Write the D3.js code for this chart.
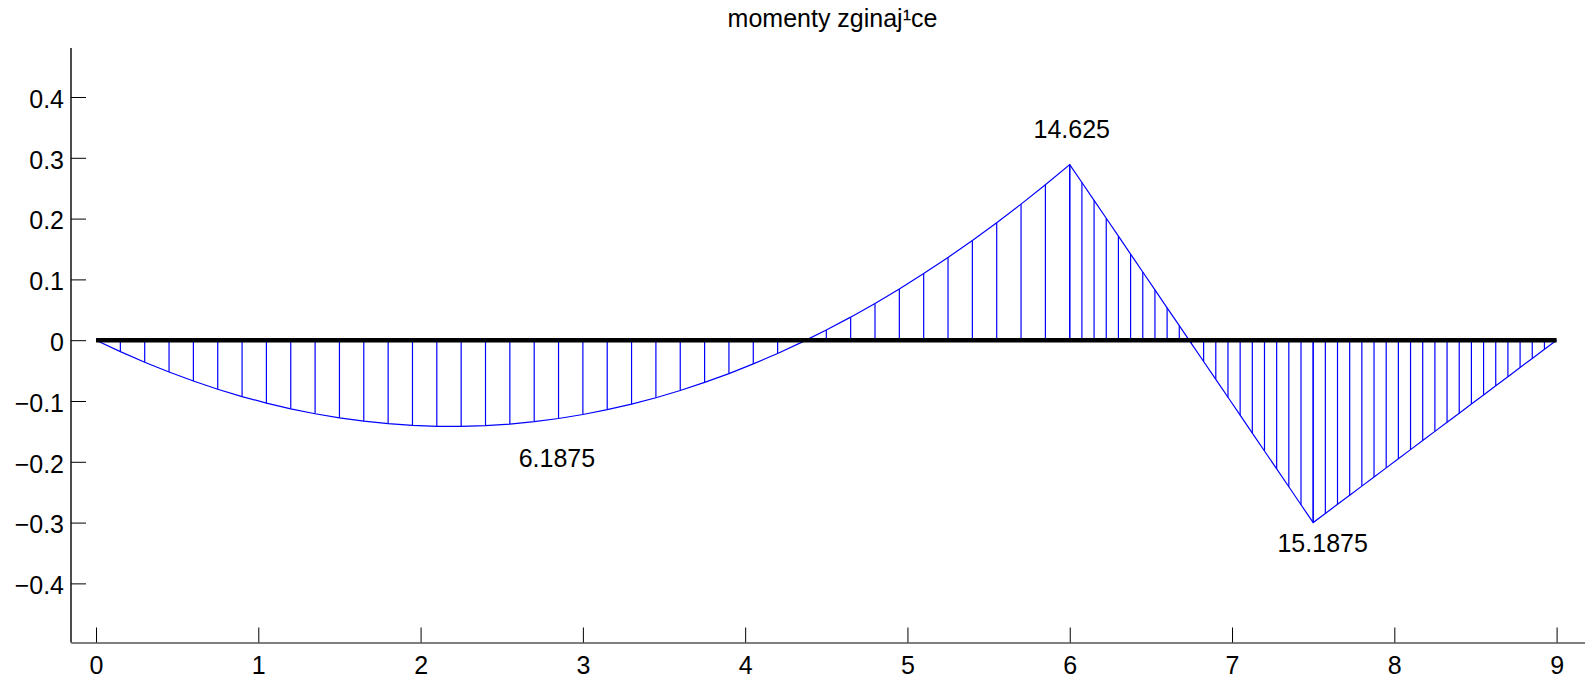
<!DOCTYPE html>
<html>
<head>
<meta charset="utf-8">
<script src="https://cdn.jsdelivr.net/npm/d3@7"></script>
<style>
  html, body { margin: 0; padding: 0; background: #fff; }
  svg { display: block; font-family: "Liberation Sans", Arial, Helvetica, sans-serif; }
</style>
</head>
<body>
<svg id="chart" width="1585" height="680"></svg>
<script>
// ---- data ----
const title = "momenty zginaj\u00B9ce";

// span 0 – 6 (step 0.15)
const xSpan1 = [0, 0.15, 0.3, 0.45, 0.6, 0.75, 0.9, 1.05, 1.2, 1.35, 1.5, 1.65, 1.8, 1.95, 2.1, 2.25, 2.4, 2.55, 2.7, 2.85, 3.0,
  3.15, 3.3, 3.45, 3.6, 3.75, 3.9, 4.05, 4.2, 4.35, 4.5, 4.65, 4.8, 4.95, 5.1, 5.25, 5.4, 5.55, 5.7, 5.85, 6.0];
const mSpan1 = [0, -0.0188, -0.0362, -0.0523, -0.0671, -0.0806, -0.0927, -0.1034, -0.1129, -0.1210, -0.1278, -0.1332, -0.1373,
  -0.1401, -0.1416, -0.1417, -0.1404, -0.1379, -0.1340, -0.1288, -0.1222, -0.1143, -0.1051, -0.0946, -0.0827, -0.0694,
  -0.0549, -0.0390, -0.0218, -0.0032, 0.0167, 0.0379, 0.0604, 0.0843, 0.1096, 0.1361, 0.1640, 0.1932, 0.2238, 0.2557, 0.2889];

// span 6 – 7.5 (step 0.075)
const xSpan2 = [6.0, 6.075, 6.15, 6.225, 6.3, 6.375, 6.45, 6.525, 6.6, 6.675, 6.75, 6.825, 6.9, 6.975, 7.05, 7.125, 7.2,
  7.275, 7.35, 7.425, 7.5];
const mSpan2 = [0.2889, 0.2594, 0.2300, 0.2006, 0.1711, 0.1417, 0.1122, 0.0828, 0.0533, 0.0239, -0.0056, -0.0350, -0.0644,
  -0.0939, -0.1233, -0.1528, -0.1822, -0.2117, -0.2411, -0.2706, -0.3000];

// span 7.5 – 9 (step 0.075)
const xSpan3 = [7.5, 7.575, 7.65, 7.725, 7.8, 7.875, 7.95, 8.025, 8.1, 8.175, 8.25, 8.325, 8.4, 8.475, 8.55, 8.625, 8.7,
  8.775, 8.85, 8.925, 9.0];
const mSpan3 = [-0.300, -0.285, -0.270, -0.255, -0.240, -0.225, -0.210, -0.195, -0.180, -0.165, -0.150, -0.135, -0.120,
  -0.105, -0.090, -0.075, -0.060, -0.045, -0.030, -0.015, 0];

// value labels
const labelText = ["6.1875", "14.625", "15.1875"];
const labelAtX  = [3.0, 6.0, 7.5];
const labelAtY  = [-0.1222, 0.2889, -0.3000];

const xTicks = [0, 1, 2, 3, 4, 5, 6, 7, 8, 9];
const yTicks = [-0.4, -0.3, -0.2, -0.1, 0, 0.1, 0.2, 0.3, 0.4];

// ---- layout ----
const FONT = 25;
const svg = d3.select("#chart");
const x = d3.scaleLinear().domain([-0.156, 9.175]).range([70.7, 1585]);
const y = d3.scaleLinear().domain([-0.4964, 0.4806]).range([642, 48]);

const pts = [];
[[xSpan1, mSpan1], [xSpan2, mSpan2], [xSpan3, mSpan3]].forEach(([xs, ms]) => {
  xs.forEach((v, i) => pts.push({x: v, m: ms[i]}));
});

// hatch lines
svg.append("g").selectAll("line").data(pts).join("line")
  .attr("x1", d => x(d.x)).attr("x2", d => x(d.x))
  .attr("y1", y(0)).attr("y2", d => y(d.m))
  .attr("stroke", "#0000ff").attr("stroke-width", 1.2);

// moment curve
const line = d3.line().x(d => x(d.x)).y(d => y(d.m));
svg.append("path").datum(pts).attr("d", line)
  .attr("fill", "none").attr("stroke", "#0000ff").attr("stroke-width", 1.2);

// beam (zero line)
svg.append("line")
  .attr("x1", x(0)).attr("x2", x(9)).attr("y1", y(0)).attr("y2", y(0))
  .attr("stroke", "#000").attr("stroke-width", 4.6);

// axes
const fmt = v => (v < 0 ? "\u2212" : "") + d3.format("")(Math.abs(+v.toFixed(1)));
const gx = svg.append("g").attr("transform", "translate(0,642.5)")
  .call(d3.axisBottom(x).tickValues(xTicks).tickSizeInner(-15).tickSizeOuter(0).tickPadding(13.5).tickFormat(d3.format("d")));
const gy = svg.append("g").attr("transform", "translate(71,0)")
  .call(d3.axisLeft(y).tickValues(yTicks).tickSizeInner(-15).tickSizeOuter(0).tickPadding(7).tickFormat(fmt));
gy.select(".domain").attr("d", `M0,${y.range()[1]}V642.5`).attr("stroke", "#000").attr("stroke-width", 1.4);
gx.select(".domain").attr("stroke", "#000");
[gx, gy].forEach(g => {
  g.selectAll("text").attr("font-size", FONT).attr("font-family", "Liberation Sans, Arial, sans-serif").attr("fill", "#000");
  g.selectAll(".tick line").attr("stroke", "#000");
});
gy.selectAll("text").attr("dy", "0.41em");

// value labels
const labelOffsets = [[-26, 53], [2, -26.7], [9.5, 29]];
svg.append("g").selectAll("text").data(labelText).join("text")
  .attr("x", (d, i) => x(labelAtX[i]) + labelOffsets[i][0])
  .attr("y", (d, i) => y(labelAtY[i]) + labelOffsets[i][1])
  .attr("text-anchor", "middle").attr("font-size", FONT).attr("fill", "#000")
  .text(d => d);

// title
svg.append("text").attr("x", 832.5).attr("y", 27.3).attr("text-anchor", "middle")
  .attr("font-size", FONT).attr("fill", "#000").text(title);
</script>
</body>
</html>
